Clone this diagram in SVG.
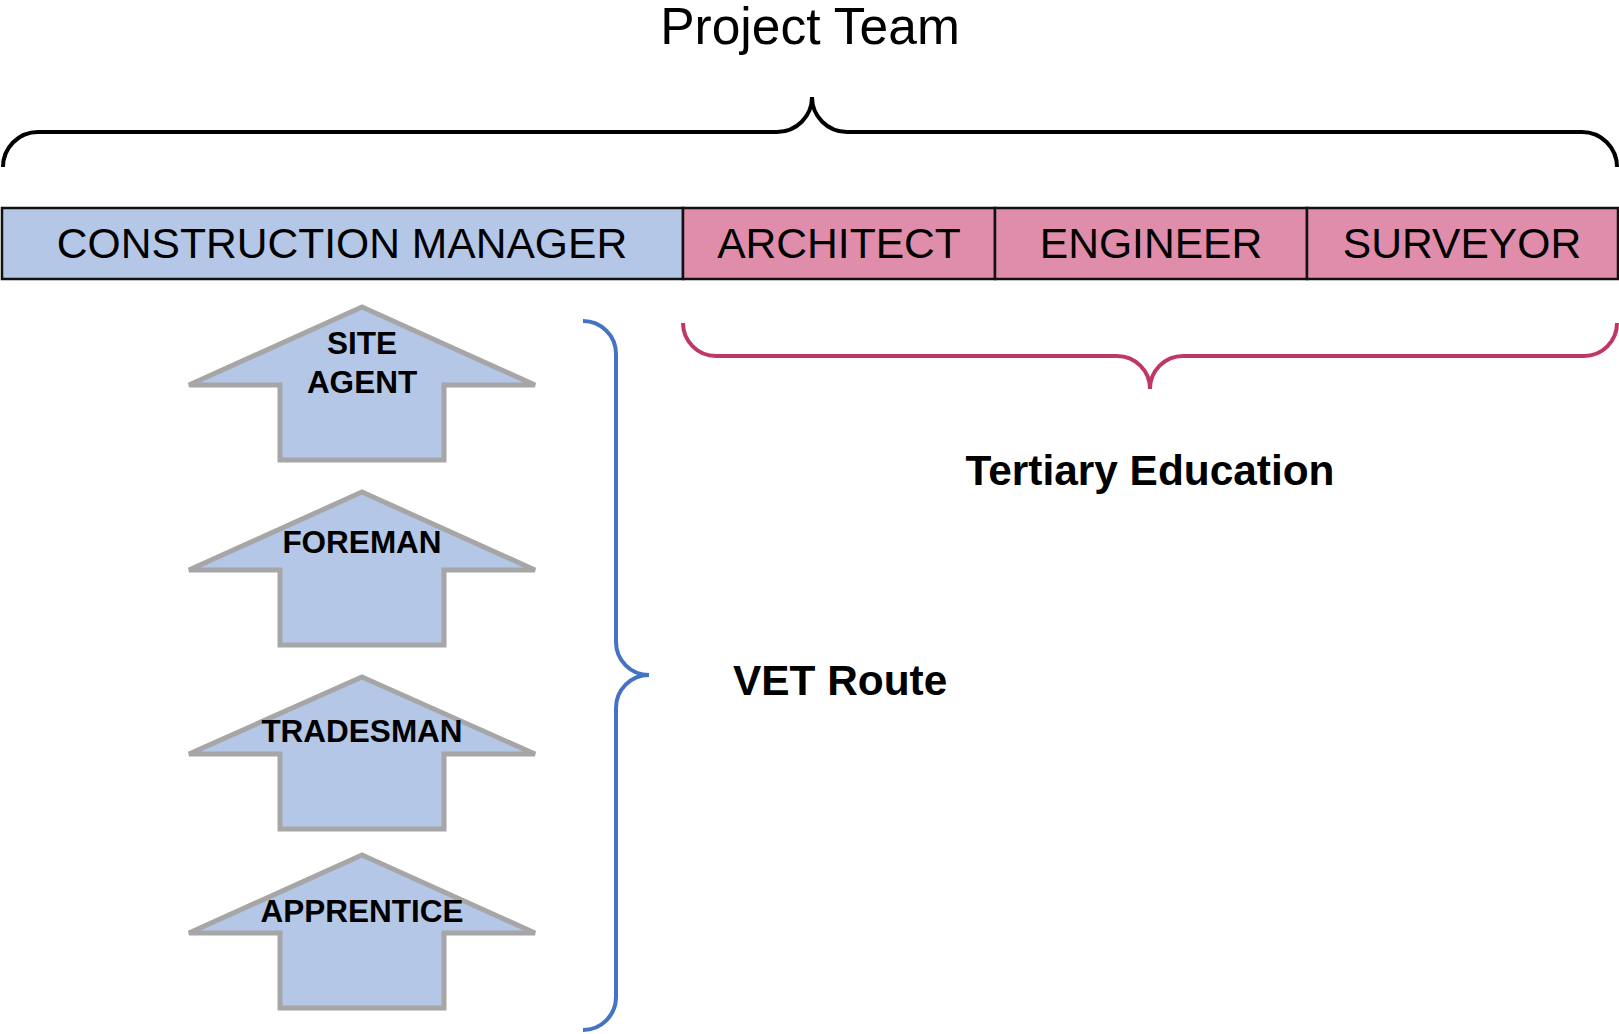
<svg xmlns="http://www.w3.org/2000/svg" width="1619" height="1034" viewBox="0 0 1619 1034">
<style>
.hdr{font-family:"Liberation Sans",Arial,sans-serif;font-size:42.6px;fill:#000;text-anchor:middle}
.lbl{font-family:"Liberation Sans",Arial,sans-serif;font-size:42.4px;font-weight:bold;fill:#000}
.arr{fill:#B4C7E7;stroke:#A6A6A6;stroke-width:5}
.arrt{font-family:"Liberation Sans",Arial,sans-serif;font-size:31.5px;font-weight:bold;fill:#000;text-anchor:middle}
.box{stroke:#111;stroke-width:2.5}
.brace{fill:none;stroke-width:4;stroke-linecap:butt}
.title{font-family:"Liberation Sans",Arial,sans-serif;font-size:51.5px;fill:#000;text-anchor:middle}
</style>
<rect width="1619" height="1034" fill="#fff"/>
<text class="title" x="810" y="44">Project Team</text>
<g id="connectors">
<path class="brace" stroke="#000" d="M3,167 A35,35 0 0 1 38,132 H777 A35,35 0 0 0 812,97 A35,35 0 0 0 847,132 H1582 A35,35 0 0 1 1617,167"/>
<path class="brace" stroke="#BE3766" d="M683,323 A33,33 0 0 0 716,356 H1117 A33,33 0 0 1 1150,389 A33,33 0 0 1 1183,356 H1584 A33,33 0 0 0 1617,323"/>
<path class="brace" stroke="#4472C4" stroke-width="4.3" d="M583,321 A33,33 0 0 1 616,354 V642 A33,33 0 0 0 649,675 A33,33 0 0 0 616,708 V997 A33,33 0 0 1 583,1030"/>
</g>
<g id="construction-manager">
<rect class="box" x="2" y="208" width="681" height="71" fill="#B4C7E7"/>
<text class="hdr" x="342" y="258">CONSTRUCTION MANAGER</text>
</g>
<g id="architect">
<rect class="box" x="683" y="208" width="312" height="71" fill="#DF8DAB"/>
<text class="hdr" x="839" y="258">ARCHITECT</text>
</g>
<g id="engineer">
<rect class="box" x="995" y="208" width="312" height="71" fill="#DF8DAB"/>
<text class="hdr" x="1151" y="258">ENGINEER</text>
</g>
<g id="surveyor">
<rect class="box" x="1307" y="208" width="311" height="71" fill="#DF8DAB"/>
<text class="hdr" x="1462" y="258">SURVEYOR</text>
</g>
<g id="site-agent">
<polygon class="arr" points="362,307 535,385 444,385 444,460 280,460 280,385 189,385"/>
<text class="arrt" x="362" y="354">SITE</text>
<text class="arrt" x="362" y="393">AGENT</text>
</g>
<g id="foreman">
<polygon class="arr" points="362,492 535,570 444,570 444,645 280,645 280,570 189,570"/>
<text class="arrt" x="362" y="553">FOREMAN</text>
</g>
<g id="tradesman">
<polygon class="arr" points="362,677 535,754 444,754 444,829 280,829 280,754 189,754"/>
<text class="arrt" x="362" y="742">TRADESMAN</text>
</g>
<g id="apprentice">
<polygon class="arr" points="362,855 535,933 444,933 444,1008 280,1008 280,933 189,933"/>
<text class="arrt" x="362" y="922">APPRENTICE</text>
</g>
<g id="tertiary-education">
<text class="lbl" x="1150" y="485" text-anchor="middle">Tertiary Education</text>
</g>
<g id="vet-route">
<text class="lbl" x="733" y="695">VET Route</text>
</g>
</svg>
